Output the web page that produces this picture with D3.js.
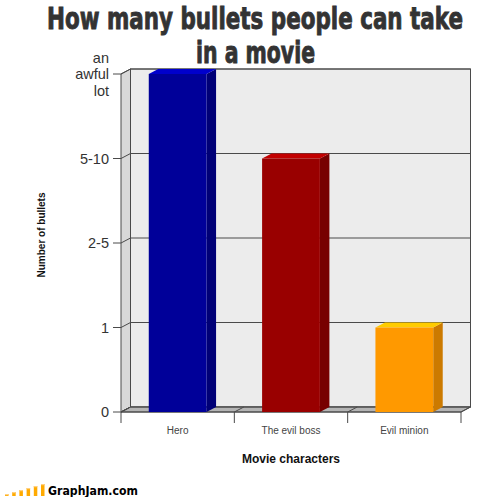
<!DOCTYPE html>
<html><head><meta charset="utf-8">
<script src="https://cdn.jsdelivr.net/npm/d3@7"></script>
<style>html,body{margin:0;padding:0;background:#fff;}svg{display:block;}</style>
</head><body>
<svg id="c" width="504" height="497"></svg>
<script>
const categories = ["Hero", "The evil boss", "Evil minion"];
const values = [4, 3, 1];
const tickLabels = ["0", "1", "2-5", "5-10", "an awful lot"];
const frontColors = ["#000099", "#990000", "#ff9900"];
const topColors = ["#0000cc", "#c20000", "#ffcc00"];
const sideColors = ["#000077", "#770000", "#cc7a00"];
const logoBars = [1, 2, 3, 4, 5, 6];

const svg = d3.select("#c");
const DX = 9.5, DY = 5;
const x = d3.scaleBand().domain(categories).range([121, 461]).paddingInner(0.49).paddingOuter(0.245);
const y = d3.scaleLinear().domain([0, 4]).range([412, 74]);
const x0 = x.range()[0], x1 = x.range()[1];
const yTop = y(4), yBot = y(0);
const gridColor = "#4a4a4a";

// back wall
svg.append("rect").attr("x", x0 + DX).attr("y", yTop - DY).attr("width", x1 - x0).attr("height", yBot - yTop)
  .attr("fill", "#ececec").attr("stroke", gridColor).attr("stroke-width", 1);
// left side wall
svg.append("path").attr("d", `M${x0},${yTop}L${x0 + DX},${yTop - DY}L${x0 + DX},${yBot - DY}L${x0},${yBot}Z`)
  .attr("fill", "#d8d8d8").attr("stroke", gridColor).attr("stroke-width", 1);
// floor
svg.append("path").attr("d", `M${x0},${yBot}L${x0 + DX},${yBot - DY}L${x1 + DX},${yBot - DY}L${x1},${yBot}Z`)
  .attr("fill", "#b4b4b4").attr("stroke", gridColor).attr("stroke-width", 1);

// gridlines + y ticks
const tv = d3.range(tickLabels.length);
tv.forEach(v => {
  const yf = y(v), yb = yf - DY;
  svg.append("path").attr("d", `M${x0 - 8},${yf}L${x0},${yf}L${x0 + DX},${yb}L${x1 + DX},${yb}`)
    .attr("fill", "none").attr("stroke", gridColor).attr("stroke-width", 1);
});
// y labels
tv.forEach(v => {
  const lab = tickLabels[v];
  const t = svg.append("text").attr("x", 109).attr("y", y(v)).attr("text-anchor", "end")
    .attr("font-family", "Liberation Sans, Arial, sans-serif").attr("font-size", 14.5).attr("fill", "#333");
  if (lab === "an awful lot") {
    const parts = ["an", "awful", "lot"];
    parts.forEach((p, i) => t.append("tspan").attr("x", 109).attr("y", y(v) + (i - 1) * 16.5).attr("dy", "0.35em").text(p));
  } else {
    t.attr("dy", "0.35em").text(lab);
  }
});

// x axis ticks and floor dividers
d3.range(categories.length + 1).forEach(i => {
  const xx = x0 + i * x.step();
  svg.append("line").attr("x1", xx).attr("x2", xx).attr("y1", yBot).attr("y2", yBot + 11).attr("stroke", gridColor);
  svg.append("line").attr("x1", xx).attr("x2", xx + DX).attr("y1", yBot).attr("y2", yBot - DY).attr("stroke", gridColor);
});
svg.append("line").attr("x1", x0).attr("x2", x1).attr("y1", yBot).attr("y2", yBot).attr("stroke", gridColor);

// bars
categories.forEach((c, i) => {
  const bx = x(c), bw = x.bandwidth(), by = y(values[i]), bb = y(0);
  svg.append("path").attr("d", `M${bx + bw},${by}L${bx + bw + DX},${by - DY}L${bx + bw + DX},${bb - DY}L${bx + bw},${bb}Z`).attr("fill", sideColors[i]);
  svg.append("path").attr("d", `M${bx},${by}L${bx + DX},${by - DY}L${bx + bw + DX},${by - DY}L${bx + bw},${by}Z`).attr("fill", topColors[i]);
  svg.append("rect").attr("x", bx).attr("y", by).attr("width", bw).attr("height", bb - by).attr("fill", frontColors[i]);
});

// x labels
categories.forEach(c => {
  svg.append("text").attr("x", x(c) + x.bandwidth() / 2).attr("y", 430).attr("dy", "0.35em")
    .attr("text-anchor", "middle").attr("font-family", "Liberation Sans, Arial, sans-serif")
    .attr("font-size", 10).attr("fill", "#444").text(c);
});

// axis titles
svg.append("text").attr("x", 291).attr("y", 463).attr("text-anchor", "middle")
  .attr("font-family", "Liberation Sans, Arial, sans-serif").attr("font-weight", "bold").attr("font-size", 12)
  .attr("fill", "#111").text("Movie characters");
svg.append("text").attr("transform", "translate(45,235) rotate(-90)").attr("text-anchor", "middle")
  .attr("font-family", "Liberation Sans, Arial, sans-serif").attr("font-weight", "bold").attr("font-size", 10)
  .attr("fill", "#111").text("Number of bullets");

// title
const title = ["How many bullets people can take", "in a movie"];
const tl = [416, 119], tx = [47, 196], ty = [29, 63];
title.forEach((s, i) => {
  svg.append("text").attr("transform", `translate(${tx[i]},${ty[i]}) scale(1,1.25)`)
    .attr("x", 0).attr("y", 0).attr("textLength", tl[i]).attr("lengthAdjust", "spacingAndGlyphs")
    .attr("font-family", "DejaVu Sans Condensed, DejaVu Sans, sans-serif").attr("font-weight", "bold")
    .attr("font-size", 24).attr("fill", "#333").attr("stroke", "#333").attr("stroke-width", 0.7).text(s);
});

// logo
const lx = d3.scaleLinear().domain([1, 6]).range([5, 41]);
const lh = d3.scaleLinear().domain([0, 6]).range([0, 12]);
logoBars.forEach(v => {
  svg.append("rect").attr("x", lx(v)).attr("y", 496 - lh(v)).attr("width", 3.5).attr("height", lh(v)).attr("fill", "#ffaa00");
  svg.append("rect").attr("x", lx(v)).attr("y", 496 - lh(v)).attr("width", 3.5).attr("height", 1.2).attr("fill", "#ffd080");
});
svg.append("text").attr("x", 48).attr("y", 495).attr("textLength", 90).attr("lengthAdjust", "spacingAndGlyphs")
  .attr("font-family", "DejaVu Sans, sans-serif").attr("font-weight", "bold").attr("font-size", 12.5)
  .attr("fill", "#000").text("GraphJam.com");
</script>
</body></html>
